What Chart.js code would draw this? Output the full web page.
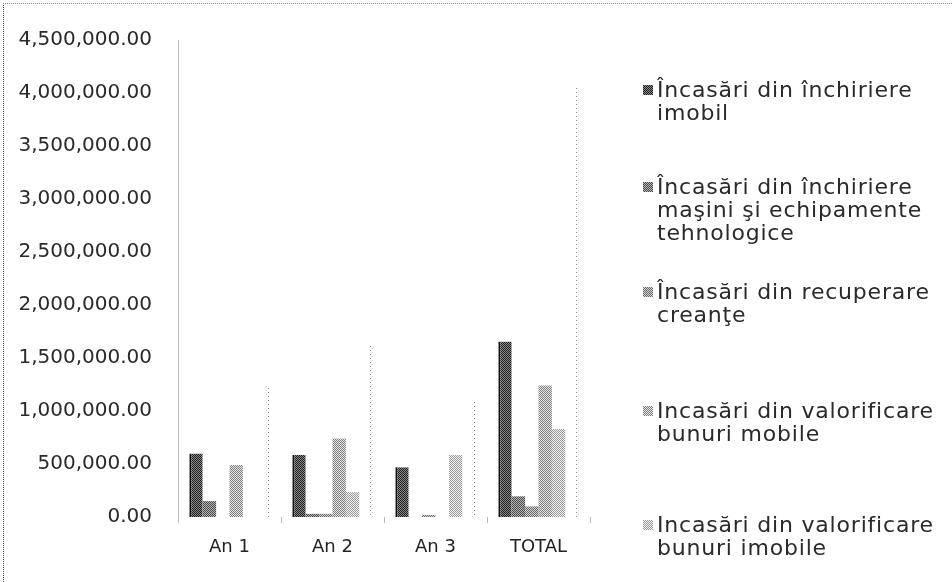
<!DOCTYPE html>
<html>
<head>
<meta charset="utf-8">
<script src="https://cdn.jsdelivr.net/npm/chart.js"></script>
<style>
    html, body { margin: 0; padding: 0; background: #fff; }
    #wrap { position: relative; width: 952px; height: 582px; overflow: hidden; }
    #frame { position: absolute; left: 3px; top: 3px; right: 0; bottom: 0; border-left: 1px dotted #444; border-top: 1px dotted #888; pointer-events: none; }
    .item { position: absolute; left: 643px; font: 22px 'DejaVu Sans', sans-serif; color: #2a2a2a; line-height: 23px; letter-spacing: 0.8px; white-space: nowrap; }
    .box { position: absolute; left: 0; top: 7px; width: 10px; height: 10px; }
    .txt { padding-left: 14px; }
</style>
</head>
<body>
<div id="wrap">
    <canvas id="chart" width="952" height="582"></canvas>
    <div id="frame"></div>
    <div id="legend"></div>
</div>
<script>
const categories = ['An 1', 'An 2', 'An 3', 'TOTAL'];

const imobil        = [600000, 585000, 470000, 1655000];
const masini        = [150000, 30000, 0, 195000];
const creante       = [0, 30000, 20000, 100000];
const bunuriMobile  = [490000, 740000, 0, 1240000];
const bunuriImobile = [0, 235000, 585000, 830000];
const totalAn       = [1240000, 1625000, 1100000, 4050000];

const legendLines = [
    ['Încasări din închiriere', 'imobil'],
    ['Încasări din închiriere', 'maşini şi echipamente', 'tehnologice'],
    ['Încasări din recuperare', 'creanţe'],
    ['Incasări din valorificare', 'bunuri mobile'],
    ['Incasări din valorificare', 'bunuri imobile']
];

const yMax = 4500000;
const yStep = 500000;

// small dithered tiles to get the scanned look of the original
function makeTile(bg, fg, cells) {
    const c = document.createElement('canvas');
    c.width = 4;
    c.height = 4;
    const g = c.getContext('2d');
    if (bg) {
        g.fillStyle = bg;
        g.fillRect(0, 0, 4, 4);
    }
    g.fillStyle = fg;
    cells.forEach(p => g.fillRect(p[0], p[1], 1, 1));
    return c;
}

const checker = [[0,0],[2,0],[1,1],[3,1],[0,2],[2,2],[1,3],[3,3]];
const sparse = [[0,0],[2,2]];

const tiles = [
    makeTile('#8a8a8a', '#1e1e1e', checker),
    makeTile('#b5b5b5', '#4a4a4a', checker),
    makeTile('#d0d0d0', '#6a6a6a', checker),
    makeTile('#e4e4e4', '#808080', checker),
    makeTile('#f2f2f2', '#9a9a9a', checker),
    makeTile(null, '#8a8a8a', sparse)
];

const ctx = document.getElementById('chart').getContext('2d');
const pat = tiles.map(t => ctx.createPattern(t, 'repeat'));

const seriesValues = [imobil, masini, creante, bunuriMobile, bunuriImobile, totalAn];
const seriesLabels = legendLines.map(l => l.join(' ')).concat(['Total']);

const datasets = seriesValues.map((vals, i) => ({
    label: seriesLabels[i],
    data: vals,
    backgroundColor: i === 5 ? 'rgba(0,0,0,0)' : pat[i],
    borderColor: i === 0 ? '#111' : pat[5],
    borderWidth: i === 0 ? {left: 2, top: 0, right: 0, bottom: 0}
               : i === 5 ? {left: 0, top: 0, right: 3, bottom: 0} : 0,
    borderSkipped: false
}));

new Chart(ctx, {
    type: 'bar',
    data: { labels: categories, datasets: datasets },
    options: {
        responsive: false,
        animation: false,
        layout: { padding: { left: 6, top: 40, right: 362, bottom: 25 } },
        datasets: { bar: { categoryPercentage: 0.78, barPercentage: 1 } },
        plugins: { legend: { display: false }, tooltip: { enabled: false } },
        scales: {
            x: {
                grid: { display: true, drawOnChartArea: false, drawTicks: true, tickLength: 6, color: '#bbb', offset: true },
                border: { display: false },
                ticks: { padding: 14, color: '#222', font: { family: 'DejaVu Sans', size: 18 } },
                afterFit: s => { s.height = 40; }
            },
            y: {
                min: 0,
                max: yMax,
                grid: { display: false, drawTicks: false },
                border: { display: true, color: '#bbb', dash: [1, 3] },
                ticks: {
                    stepSize: yStep,
                    padding: 26,
                    color: '#2a2a2a',
                    font: { family: 'DejaVu Sans', size: 20 },
                    callback: v => v.toLocaleString('en-US', { minimumFractionDigits: 2, maximumFractionDigits: 2 })
                },
                afterFit: s => { s.width = 172; }
            }
        }
    }
});

// legend, laid out like the original (first line of each entry)
const legendTops = [78, 175, 280, 399, 513];
const legend = document.getElementById('legend');
legendLines.forEach((lines, i) => {
    const item = document.createElement('div');
    item.className = 'item';
    item.style.top = legendTops[i] + 'px';
    item.innerHTML = `
        <div class="box" style="background-image:url(${tiles[i].toDataURL()})"></div>
        <div class="txt">${lines.join('<br>')}</div>
    `;
    legend.appendChild(item);
});
</script>
</body>
</html>
